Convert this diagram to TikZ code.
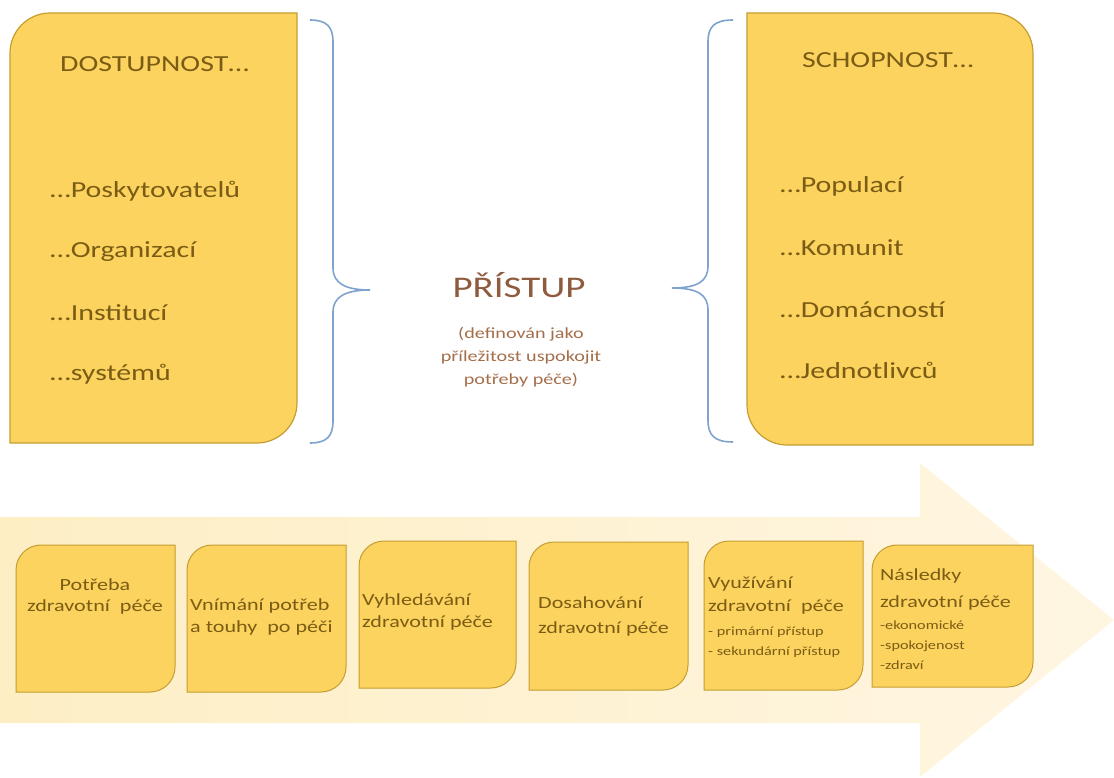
\documentclass[tikz,border=0pt]{standalone}
\usepackage{fontspec}
\setmainfont{Carlito}[FakeStretch=1.3]

\definecolor{boxfill}{HTML}{FCD35E}
\definecolor{boxline}{HTML}{C49E32}
\definecolor{boxtext}{HTML}{7A5C14}
\definecolor{bracecol}{HTML}{7FA3CF}
\definecolor{titlecol}{HTML}{8E5B3E}
\definecolor{subcol}{HTML}{A46E4A}
\definecolor{arrowL}{HTML}{FDEEC4}
\definecolor{arrowR}{HTML}{FFF6E2}

% rectangle with rounded top-left and bottom-right corners: x1 y1 x2 y2 r
\newcommand\shapeTLBR[5]{(#1,#4) -- (#1,{#2+#5}) .. controls (#1,{#2+0.45*#5}) and ({#1+0.45*#5},#2) .. ({#1+#5},#2) -- (#3,#2) -- (#3,{#4-#5}) .. controls (#3,{#4-0.45*#5}) and ({#3-0.45*#5},#4) .. ({#3-#5},#4) -- cycle}
% rectangle with rounded top-right and bottom-left corners: x1 y1 x2 y2 r
\newcommand\shapeTRBL[5]{(#1,#2) -- ({#3-#5},#2) .. controls ({#3-0.45*#5},#2) and (#3,{#2+0.45*#5}) .. (#3,{#2+#5}) -- (#3,#4) -- ({#1+#5},#4) .. controls ({#1+0.45*#5},#4) and (#1,{#4-0.45*#5}) .. (#1,{#4-#5}) -- cycle}

\tikzset{
  panel/.style={fill=boxfill, draw=boxline, line width=1.2pt},
  brace/.style={draw=bracecol, line width=1.6pt},
  bigitem/.style={font=\fontsize{23}{28}\selectfont, text=boxtext, inner sep=0pt, anchor=base west},
  steplbl/.style={font=\fontsize{17}{20}\selectfont, text=boxtext, inner sep=0pt, anchor=base west},
  steplblc/.style={steplbl, anchor=base},
  subitem/.style={font=\fontsize{12.5}{15}\selectfont, text=boxtext, inner sep=0pt, anchor=base west},
}

\begin{document}
\begin{tikzpicture}[x=1pt,y=-1pt]
\useasboundingbox (0,0) rectangle (1114,778);

% process arrow in the background
\shade[left color=arrowL, right color=arrowR]
  (0,517) -- (920,517) -- (920,463) -- (1114,620) -- (920,777) -- (920,723) -- (0,723) -- cycle;

% upper panels
\draw[panel] \shapeTLBR{10}{13}{297}{443}{40};
\draw[panel] \shapeTRBL{747}{13}{1033}{445}{40};

% braces
\draw[brace] (310,20) .. controls (327,20) and (333,27) .. (333,42)
  -- (333,268) .. controls (333,283) and (345,290) .. (370,290)
  .. controls (345,290) and (333,297) .. (333,312)
  -- (333,421) .. controls (333,436) and (327,443) .. (310,443);
\draw[brace] (733,20) .. controls (714,20) and (708,27) .. (708,42)
  -- (708,266) .. controls (708,281) and (698,288) .. (672,288)
  .. controls (698,288) and (708,295) .. (708,310)
  -- (708,420) .. controls (708,435) and (714,442) .. (733,442);

% left panel texts
\node[bigitem] (dost) at (60,72) {DOSTUPNOST…};
\node[bigitem] (posk) at (50,198) {…Poskytovatelů};
\node[bigitem] (org)  at (50,258) {…Organizací};
\node[bigitem] (inst) at (50,320) {…Institucí};
\node[bigitem] (syst) at (50,380) {…systémů};

% right panel texts
\node[bigitem] (schop) at (802,68) {SCHOPNOST…};
\node[bigitem] (pop)  at (780,193) {…Populací};
\node[bigitem] (kom)  at (780,255) {…Komunit};
\node[bigitem] (dom)  at (780,317) {…Domácností};
\node[bigitem] (jedn) at (780,378) {…Jednotlivců};

% centre title
\node[font=\fontsize{30}{36}\selectfont, text=titlecol, inner sep=0pt, anchor=base] (pristup) at (519,297) {PŘÍSTUP};
\node[font=\fontsize{15.5}{19}\selectfont, text=subcol, inner sep=0pt, anchor=base] (def1) at (521,338) {(definován jako};
\node[font=\fontsize{15.5}{19}\selectfont, text=subcol, inner sep=0pt, anchor=base] (def2) at (521,361) {příležitost uspokojit};
\node[font=\fontsize{15.5}{19}\selectfont, text=subcol, inner sep=0pt, anchor=base] (def3) at (521,384) {potřeby péče)};

% process steps
\draw[panel, line width=1pt] \shapeTLBR{16}{545}{175}{692}{25};
\draw[panel, line width=1pt] \shapeTLBR{187}{545}{346}{692}{25};
\draw[panel, line width=1pt] \shapeTLBR{359}{541}{516}{688}{25};
\draw[panel, line width=1pt] \shapeTLBR{529}{542}{688}{690}{25};
\draw[panel, line width=1pt] \shapeTLBR{704}{541}{863}{690}{25};
\draw[panel, line width=1pt] \shapeTLBR{872}{545}{1033}{687}{25};

\node[steplblc] (s1a) at (95,590) {Potřeba};
\node[steplblc] (s1b) at (95,611) {zdravotní\ \ péče};

\node[steplbl] (s2a) at (190,610) {Vnímání potřeb};
\node[steplbl] (s2b) at (190,632) {a touhy\ \ po péči};

\node[steplbl] (s3a) at (362,605) {Vyhledávání};
\node[steplbl] (s3b) at (362,627) {zdravotní péče};

\node[steplbl] (s4a) at (538,608) {Dosahování};
\node[steplbl] (s4b) at (538,633) {zdravotní péče};

\node[steplbl] (s5a) at (708,588) {Využívání};
\node[steplbl] (s5b) at (708,611) {zdravotní\ \ péče};
\node[subitem] (s5c) at (708,635) {- primární přístup};
\node[subitem] (s5d) at (708,655) {- sekundární přístup};

\node[steplbl] (s6a) at (880,580) {Následky};
\node[steplbl] (s6b) at (880,607) {zdravotní péče};
\node[subitem] (s6c) at (880,629) {-ekonomické};
\node[subitem] (s6d) at (880,649) {-spokojenost};
\node[subitem] (s6e) at (880,669) {-zdraví};
\end{tikzpicture}
\end{document}
